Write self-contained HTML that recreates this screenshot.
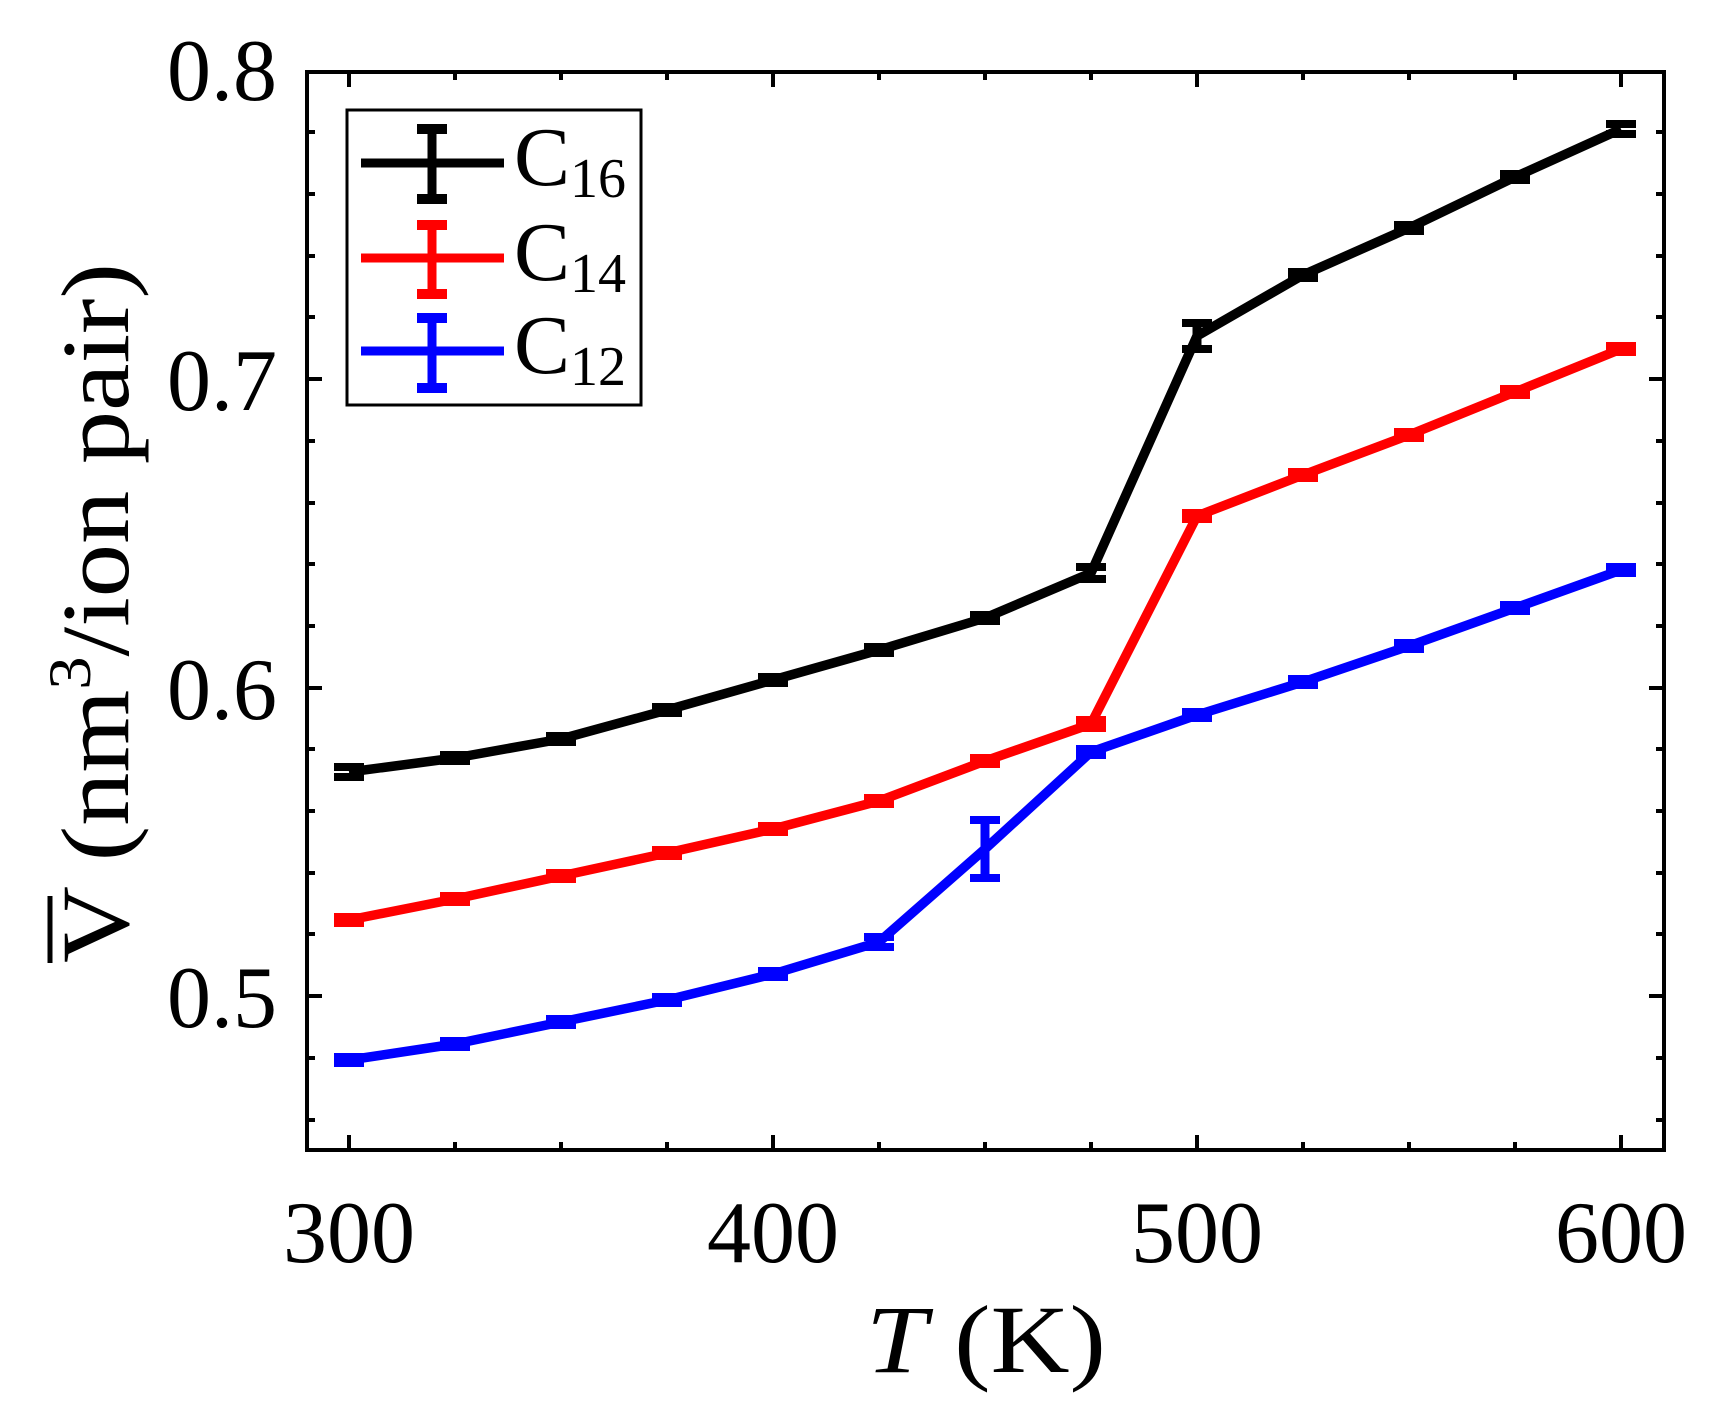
<!DOCTYPE html>
<html><head><meta charset="utf-8"><style>
html,body{margin:0;padding:0;background:#fff;}
svg{display:block;}
text{font-family:"Liberation Serif",serif;fill:#000;}
</style></head><body>
<svg width="1709" height="1405" viewBox="0 0 1709 1405" xmlns="http://www.w3.org/2000/svg">
<g stroke="#000" stroke-width="4">
<path d="M349 1150v-15M773 1150v-15M1197 1150v-15M1621 1150v-15M349 72v15M773 72v15M1197 72v15M1621 72v15"/>
<path d="M455 1150v-8M561 1150v-8M667 1150v-8M879 1150v-8M985 1150v-8M1091 1150v-8M1303 1150v-8M1409 1150v-8M1515 1150v-8M455 72v8M561 72v8M667 72v8M879 72v8M985 72v8M1091 72v8M1303 72v8M1409 72v8M1515 72v8"/>
<path d="M307 379h15M307 688h15M307 996h15M1664 379h-15M1664 688h-15M1664 996h-15"/>
<path d="M307 132h8M307 194h8M307 256h8M307 317h8M307 441h8M307 503h8M307 564h8M307 626h8M307 749h8M307 811h8M307 873h8M307 934h8M307 1058h8M307 1120h8M1664 132h-8M1664 194h-8M1664 256h-8M1664 317h-8M1664 441h-8M1664 503h-8M1664 564h-8M1664 626h-8M1664 749h-8M1664 811h-8M1664 873h-8M1664 934h-8M1664 1058h-8M1664 1120h-8"/>
<rect x="307" y="72" width="1357" height="1078" fill="none"/>
</g>
<g font-size="88" text-anchor="end">
<text x="277" y="410">0.7</text>
<text x="277" y="719">0.6</text>
<text x="277" y="1027">0.5</text>
<text x="277" y="100">0.8</text>
</g>
<g font-size="88" text-anchor="middle">
<text x="349" y="1262">300</text>
<text x="773" y="1262">400</text>
<text x="1197" y="1262">500</text>
<text x="1621" y="1262">600</text>
</g>
<text font-size="96" x="986" y="1372" text-anchor="middle" textLength="240" lengthAdjust="spacingAndGlyphs"><tspan font-style="italic">T</tspan> (K)</text>
<g transform="translate(128,613) rotate(-90)">
<text font-size="96" x="-350" y="0" textLength="700" lengthAdjust="spacingAndGlyphs">V  (nm<tspan font-size="60" dy="-38">3</tspan><tspan dy="38">/ion pair)</tspan></text>
<line x1="-350" y1="-78" x2="-283" y2="-78" stroke="#000" stroke-width="5"/>
</g>
<g fill="none" stroke-width="9.5" stroke-linejoin="round">
<polyline stroke="#000" points="349,772 455,758 561,739 667,710 773,680 879,650 985,618 1091,573 1197,336 1303,275 1409,228 1515,177 1621,129"/>
<polyline stroke="#f00" points="349,920 455,899 561,876 667,853 773,829 879,801 985,761 1091,724 1197,516 1303,475 1409,435 1515,392 1621,349"/>
<polyline stroke="#00f" points="349,1060 455,1044 561,1022 667,1000 773,974 879,942 985,849 1091,752 1197,715 1303,682 1409,646 1515,608 1621,570"/>
</g>
<g stroke-width="8">
<g stroke="#000">
<path d="M334 767h30M334 777h30M440 755h30M440 761h30M546 736h30M546 742h30M652 707h30M652 713h30M758 677h30M758 683h30M864 647h30M864 653h30M970 615h30M970 621h30M1076 567h30M1076 579h30M1182 323h30M1182 349h30M1288 272h30M1288 278h30M1394 225h30M1394 231h30M1500 174h30M1500 180h30M1606 124h30M1606 134h30"/>
<path d="M1197 323v26" stroke-width="9"/>
</g>
<g stroke="#f00">
<path d="M334 917h30M334 923h30M440 896h30M440 902h30M546 873h30M546 879h30M652 850h30M652 856h30M758 826h30M758 832h30M864 798h30M864 804h30M970 758h30M970 764h30M1076 720h30M1076 728h30M1182 513h30M1182 519h30M1288 472h30M1288 478h30M1394 432h30M1394 438h30M1500 389h30M1500 395h30M1606 346h30M1606 352h30"/>
</g>
<g stroke="#00f">
<path d="M334 1057h30M334 1063h30M440 1041h30M440 1047h30M546 1019h30M546 1025h30M652 997h30M652 1003h30M758 971h30M758 977h30M864 937h30M864 947h30M970 820h30M970 878h30M1076 749h30M1076 755h30M1182 712h30M1182 718h30M1288 679h30M1288 685h30M1394 643h30M1394 649h30M1500 605h30M1500 611h30M1606 567h30M1606 573h30"/>
<path d="M985 820v58" stroke-width="9"/>
</g>
</g>
<rect x="347" y="110" width="294" height="295" fill="#fff" stroke="#000" stroke-width="3"/>
<g stroke-width="9">
<path stroke="#000" d="M361 163h143M432 126v75"/>
<path stroke="#000" stroke-width="10" d="M417 129h30M417 199h30"/>
<path stroke="#f00" d="M361 258h143M432 222v75"/>
<path stroke="#f00" stroke-width="10" d="M417 225h30M417 294h30"/>
<path stroke="#00f" d="M361 351h143M432 315v75"/>
<path stroke="#00f" stroke-width="10" d="M417 318h30M417 388h30"/>
</g>
<g font-size="84">
<text x="514" y="185">C<tspan font-size="56" dy="12">16</tspan></text>
<text x="514" y="280">C<tspan font-size="56" dy="12">14</tspan></text>
<text x="514" y="373">C<tspan font-size="56" dy="12">12</tspan></text>
</g>
</svg>
</body></html>
